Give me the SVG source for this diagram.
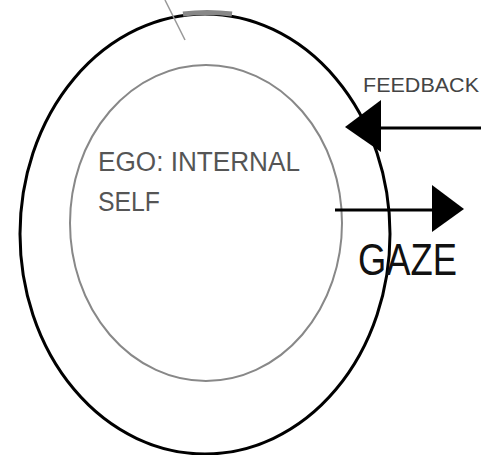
<svg xmlns="http://www.w3.org/2000/svg" width="485" height="455" viewBox="0 0 485 455">
<style>
.lbl{font-family:"Liberation Sans",Arial,sans-serif;}
.con{stroke:#000;stroke-width:3;fill:none;}
.head{fill:#000;stroke:none;}
</style>
<rect width="485" height="455" fill="#fff"/>
<g id="outer">
<ellipse cx="205" cy="234" rx="185" ry="220" fill="none" stroke="#000" stroke-width="3"/>
<path d="M183,14 Q207,11 232,14" fill="none" stroke="#888" stroke-width="5"/>
<line x1="165" y1="0" x2="185" y2="40" stroke="#999" stroke-width="1.5"/>
</g>
<g id="ego">
<ellipse cx="206" cy="223" rx="136" ry="158" fill="none" stroke="#888" stroke-width="2"/>
<text class="lbl" x="98" y="171" font-size="27" fill="#555" textLength="202" lengthAdjust="spacingAndGlyphs">EGO: INTERNAL</text>
<text class="lbl" x="98" y="211" font-size="27" fill="#555" textLength="62" lengthAdjust="spacingAndGlyphs">SELF</text>
</g>
<g id="labels">
<text class="lbl" x="363" y="92" font-size="21" fill="#444" textLength="116" lengthAdjust="spacingAndGlyphs">FEEDBACK</text>
<text class="lbl" x="358" y="275" font-size="44" fill="#111" textLength="99" lengthAdjust="spacingAndGlyphs">GAZE</text>
</g>
<g id="connectors">
<line class="con" x1="380" y1="128" x2="481" y2="128"/>
<polygon class="head" points="345,127 381,100 381,152"/>
<line class="con" x1="335" y1="210" x2="433" y2="210"/>
<polygon class="head" points="432,185 464,209 432,232"/>
</g>
</svg>
